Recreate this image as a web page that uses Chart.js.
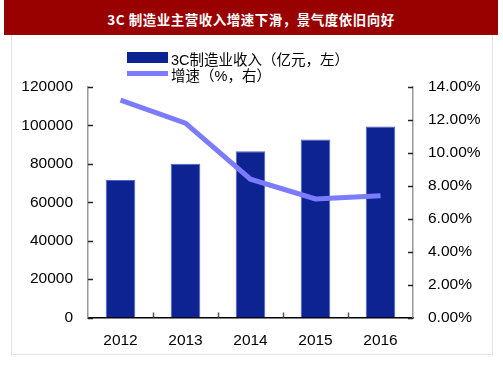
<!DOCTYPE html>
<html>
<head>
<meta charset="utf-8">
<script src="https://cdn.jsdelivr.net/npm/chart.js@4.4.1/dist/chart.umd.min.js"></script>
<style>
  body { margin: 0; width: 503px; height: 378px; background: #fff; position: relative; overflow: hidden; }
  #titulo {
    position: absolute; left: 4px; top: 0; width: 494px; height: 35px;
    background: #990000; color: #fff; font: bold 13.5px "Noto Sans CJK SC", sans-serif;
    text-align: center; line-height: 38px; letter-spacing: 0.5px;
  }
  #caixa {
    position: absolute; left: 11px; top: 35px; width: 480px; height: 319px;
    border: 1px solid #e3e3e3; border-top: none;
  }
  #grafico { position: absolute; left: 0; top: 0; }
  .legenda { position: absolute; left: 127px; font: 14.5px "Liberation Sans", "Noto Sans CJK SC", sans-serif; color: #000; }
  .legenda span { position: absolute; left: 44px; white-space: nowrap; }
  .caixaBarra { position: absolute; left: 0; width: 41px; height: 11px; background: #0c2391; }
  .caixaLinha { position: absolute; left: 0; width: 41px; height: 5px; background: #7b7bff; }
</style>
</head>
<body>
<div id="titulo">3C 制造业主营收入增速下滑，景气度依旧向好</div>
<div id="caixa"></div>
<canvas id="grafico" width="503" height="378"></canvas>
<div class="legenda" style="top:52px"><div class="caixaBarra"></div><span style="top:-4px">3C制造业收入（亿元，左）</span></div>
<div class="legenda" style="top:71px"><div class="caixaLinha"></div><span style="top:-7px">增速（%，右）</span></div>
<script>
var anos = ["2012", "2013", "2014", "2015", "2016"];
var receita = [71600, 80100, 86600, 92700, 99500];
var crescimento = [13.2, 11.8, 8.4, 7.2, 7.4];

var corBarra = "#0c2391";
var corLinha = "#7b7bff";

// ticks para dentro da area do grafico
var ticksInternos = {
  id: "ticksInternos",
  afterDraw: function(chart) {
    var ctx = chart.ctx;
    var area = chart.chartArea;
    var y = chart.scales.y;
    var y1 = chart.scales.y1;
    var x = chart.scales.x;
    ctx.save();
    ctx.lineWidth = 1.5;
    ctx.strokeStyle = "#222";
    y.ticks.forEach(function(t) {
      var py = Math.round(y.getPixelForValue(t.value)) + 0.5;
      ctx.beginPath(); ctx.moveTo(area.left, py); ctx.lineTo(area.left + 5, py); ctx.stroke();
    });
    y1.ticks.forEach(function(t) {
      var py = Math.round(y1.getPixelForValue(t.value)) + 0.5;
      ctx.beginPath(); ctx.moveTo(area.right - 5, py); ctx.lineTo(area.right, py); ctx.stroke();
    });
    ctx.strokeStyle = "#555";
    for (var i = 1; i < anos.length; i++) {
      var px = Math.round((x.getPixelForValue(i - 1) + x.getPixelForValue(i)) / 2) + 0.5;
      ctx.beginPath(); ctx.moveTo(px, area.bottom); ctx.lineTo(px, area.bottom - 5); ctx.stroke();
    }
    ctx.restore();
  }
};

var fonteEixo = { family: "'Liberation Sans', Arial, sans-serif", size: 15.5 };

new Chart(document.getElementById("grafico"), {
  data: {
    labels: anos,
    datasets: [
      {
        type: "line",
        label: "增速（%，右）",
        data: crescimento,
        yAxisID: "y1",
        borderColor: corLinha,
        borderWidth: 5,
        borderCapStyle: "butt",
        pointRadius: 0,
        tension: 0,
        order: 0
      },
      {
        type: "bar",
        label: "3C制造业收入（亿元，左）",
        data: receita,
        yAxisID: "y",
        backgroundColor: corBarra,
        borderColor: "#4b63c8",
        borderWidth: 1,
        categoryPercentage: 1,
        barPercentage: 0.455,
        order: 1
      }
    ]
  },
  plugins: [ticksInternos],
  options: {
    responsive: false,
    animation: false,
    layout: { padding: { top: 87, left: 0, right: 0, bottom: 0 } },
    plugins: { legend: { display: false }, tooltip: { enabled: false } },
    scales: {
      x: {
        grid: { display: false },
        border: { color: "#000", width: 1.5 },
        ticks: { color: "#000", font: fonteEixo, padding: 6, maxRotation: 0 },
        afterFit: function(s) { s.height = 60.5; }
      },
      y: {
        position: "left",
        min: 0, max: 120000,
        grid: { display: false, drawTicks: false },
        border: { color: "#999", width: 1.5 },
        ticks: {
          stepSize: 20000, color: "#000", font: fonteEixo, padding: 15,
          callback: function(v) { return String(v); }
        },
        afterFit: function(s) { s.width = 88; }
      },
      y1: {
        position: "right",
        min: 0, max: 14,
        grid: { display: false, drawTicks: false },
        border: { color: "#999", width: 1.5 },
        ticks: {
          stepSize: 2, color: "#000", font: fonteEixo, padding: 15,
          callback: function(v) { return v.toFixed(2) + "%"; }
        },
        afterFit: function(s) { s.width = 90; }
      }
    }
  }
});
</script>
</body>
</html>
